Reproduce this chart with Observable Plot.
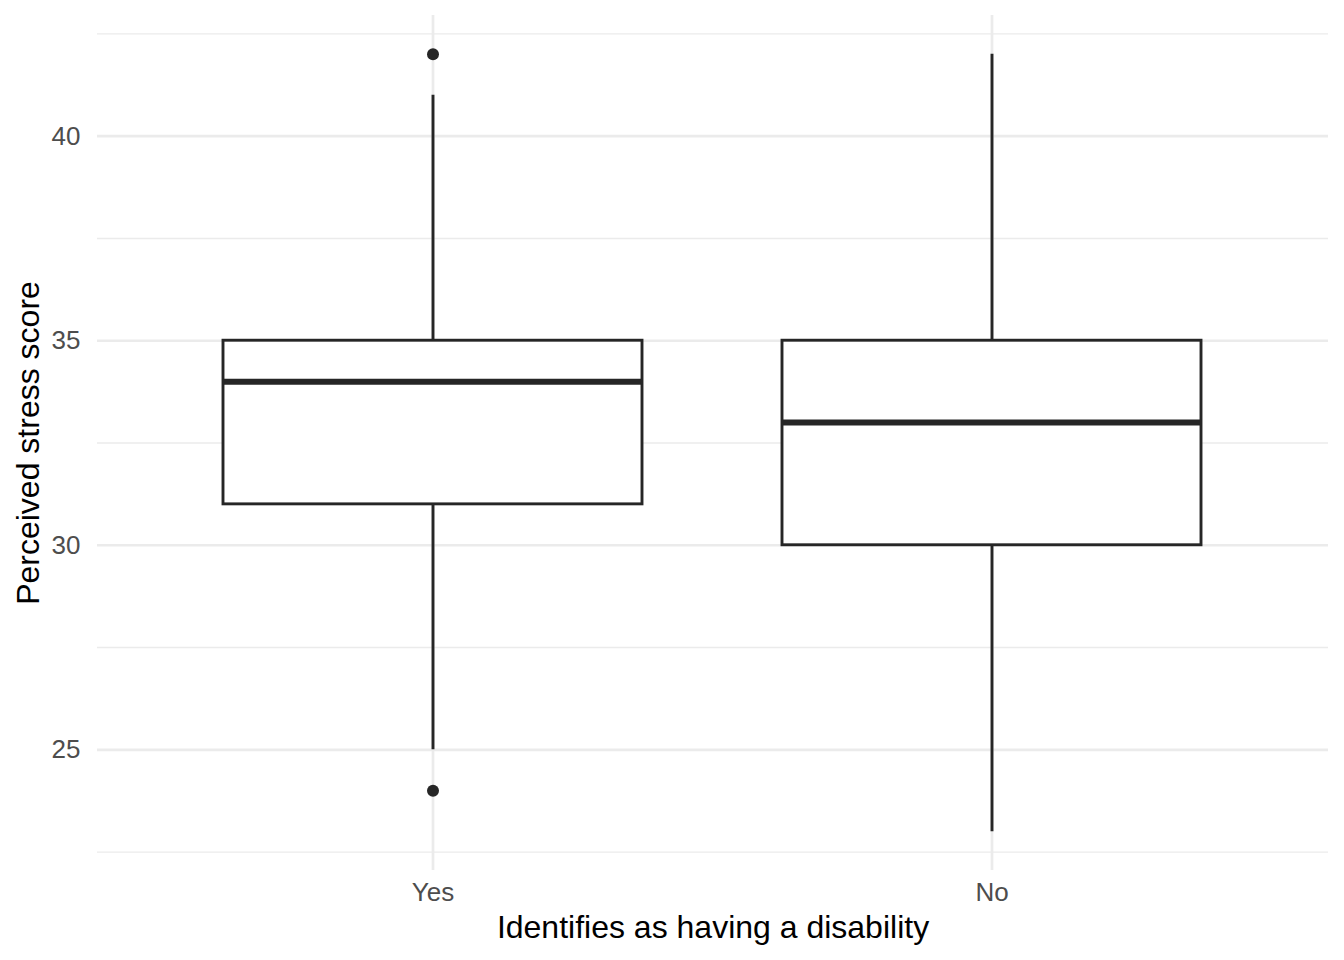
<!DOCTYPE html>
<html>
<head>
<meta charset="utf-8">
<script src="https://cdn.jsdelivr.net/npm/d3@7"></script>
<script src="https://cdn.jsdelivr.net/npm/@observablehq/plot@0.6"></script>
<style>
  html, body { margin: 0; padding: 0; background: #fff; }
  #chart svg { display: block; }
</style>
</head>
<body>
<div id="chart"></div>
<script>
const groups = ["Yes", "No"];
const lowerWhisker = [25, 23];
const q1 = [31, 30];
const median = [34, 33];
const q3 = [35, 35];
const upperWhisker = [41, 42];
const outlierGroup = ["Yes", "Yes"];
const outlierValue = [42, 24];
const majorTicks = [25, 30, 35, 40];
const minorTicks = [22.5, 27.5, 32.5, 37.5, 42.5];
const xTitle = "Identifies as having a disability";
const yTitle = "Perceived stress score";

const boxes = groups.map((g, i) => ({
  group: g, lo: lowerWhisker[i], q1: q1[i], med: median[i], q3: q3[i], hi: upperWhisker[i]
}));
const outliers = outlierGroup.map((g, i) => ({group: g, value: outlierValue[i]}));

const ink = "#262626";
const grid = "#ebebeb";

const chart = Plot.plot({
  width: 1344,
  height: 960,
  marginTop: 15,
  marginBottom: 90,
  marginLeft: 97,
  marginRight: 16,
  style: {fontFamily: "'Liberation Sans', Arial, sans-serif", fontSize: "26px", color: "#4d4d4d", background: "#fff"},
  x: {type: "band", domain: groups, paddingInner: 0.25, paddingOuter: 0.225, label: null},
  y: {domain: [22.05, 42.95], label: null},
  marks: [
    Plot.ruleY(minorTicks, {stroke: grid, strokeWidth: 1.4}),
    Plot.ruleY(majorTicks, {stroke: grid, strokeWidth: 2.7}),
    Plot.ruleX(groups, {x: d => d, stroke: grid, strokeWidth: 2.7}),
    Plot.ruleX(boxes, {x: "group", y1: "lo", y2: "hi", stroke: ink, strokeWidth: 2.9}),
    Plot.barY(boxes, {x: "group", y1: "q1", y2: "q3", fill: "#fff", stroke: ink, strokeWidth: 2.9}),
    Plot.tickY(boxes, {x: "group", y: "med", stroke: ink, strokeWidth: 6}),
    Plot.dot(outliers, {x: "group", y: "value", r: 6, fill: ink, stroke: null}),
    Plot.axisY(majorTicks, {tickSize: 0, tickPadding: 17, fill: "#4d4d4d", fontSize: 26, label: null}),
    Plot.axisX(groups, {tickSize: 0, tickPadding: 12, fill: "#4d4d4d", fontSize: 26, label: null}),
    Plot.text([yTitle], {frameAnchor: "left", rotate: -90, textAnchor: "middle", lineAnchor: "middle", dx: -69, fontSize: 32, fill: "#000", text: d => d}),
    Plot.text([xTitle], {frameAnchor: "bottom", textAnchor: "middle", lineAnchor: "middle", dy: 57, fontSize: 32, fill: "#000", text: d => d})
  ]
});
document.getElementById("chart").appendChild(chart);
</script>
</body>
</html>
